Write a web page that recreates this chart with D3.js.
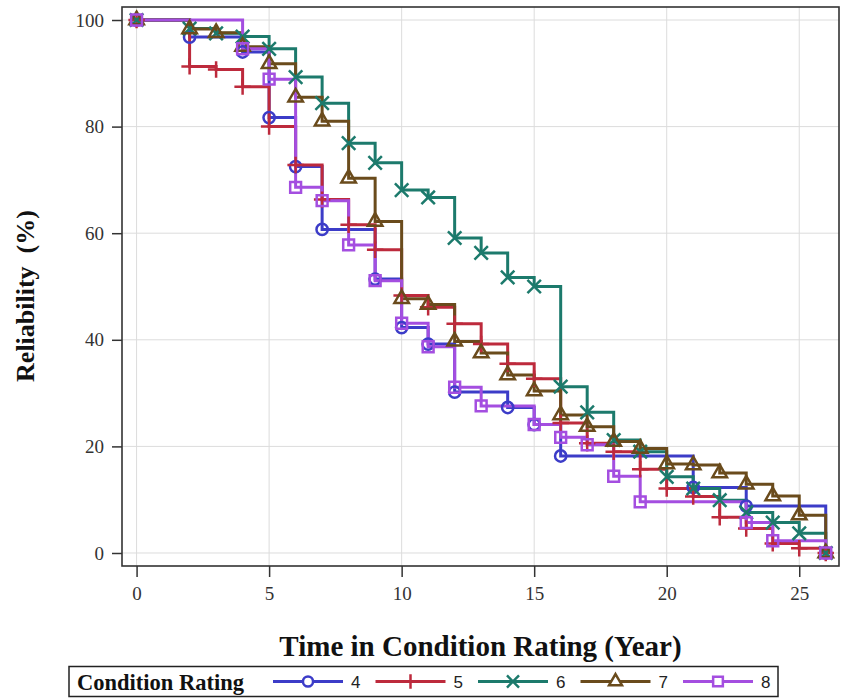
<!DOCTYPE html>
<html>
<head>
<meta charset="utf-8">
<script src="https://cdn.jsdelivr.net/npm/d3@7"></script>
<style>
  html, body { margin: 0; padding: 0; background: #fff; }
  svg { display: block; }
</style>
</head>
<body>
<svg id="chart" width="841" height="698"></svg>
<script>
// ---- data ----
const ratings = ["4", "5", "6", "7", "8"];

const years4 = [0, 2, 4, 5, 6, 7, 9, 10, 11, 12, 14, 15, 16, 21, 23, 26];
const rel4   = [100, 96.8, 94, 81.7, 72.5, 60.7, 51.4, 42.3, 39.2, 30.2, 27.3, 24.1, 18.2, 12.3, 8.8, 0];

const years5 = [0, 2, 3, 4, 5, 6, 7, 8, 9, 10, 11, 12, 13, 14, 15, 16, 17, 18, 19, 20, 21, 22, 23, 24, 25, 26];
const rel5   = [100, 91.3, 90.7, 87.5, 80, 72.8, 66.3, 61.6, 56.9, 48.3, 46.1, 43, 39.2, 35.5, 32.7, 24.4, 20.6, 19, 15.7, 12.1, 10.6, 6.7, 4.6, 1.8, 0.9, 0];

const years6 = [0, 2, 3, 4, 5, 6, 7, 8, 9, 10, 11, 12, 13, 14, 15, 16, 17, 18, 19, 20, 21, 22, 23, 24, 25, 26];
const rel6   = [100, 98.4, 97.5, 96.9, 94.6, 89.3, 84.4, 76.9, 73.2, 68.1, 66.7, 59.1, 56.3, 51.7, 50, 31.2, 26.4, 21.2, 19, 14.3, 12.1, 9.9, 7.6, 5.7, 3.7, 0];

const years7 = [0, 2, 3, 4, 5, 6, 7, 8, 9, 10, 11, 12, 13, 14, 15, 16, 17, 18, 19, 20, 21, 22, 23, 24, 25, 26];
const rel7   = [100, 98.3, 97.6, 95, 91.8, 85.5, 81, 70.3, 62.2, 47.7, 46.6, 39.7, 37.5, 33.4, 30.4, 25.9, 23.7, 20.9, 19.6, 16.7, 16.5, 15, 12.9, 10.7, 7.1, 0];

const years8 = [0, 4, 5, 6, 7, 8, 9, 10, 11, 12, 13, 15, 16, 17, 18, 19, 23, 24, 26];
const rel8   = [100, 94.6, 88.9, 68.6, 66.1, 57.8, 51.1, 43.1, 38.7, 31.1, 27.6, 24.1, 21.7, 20.3, 14.4, 9.6, 5.7, 2.3, 0];

const xTicks = [0, 5, 10, 15, 20, 25];
const yTicks = [0, 20, 40, 60, 80, 100];

const xTitle = "Time in Condition Rating (Year)";
const yTitle = "Reliability\u00a0\u00a0(%)";
const legendTitle = "Condition Rating";

// ---- styles ----
const colors  = ["#3c3cc8", "#bd2a3c", "#1c7a6c", "#6a4b1c", "#a44ee0"];
const symbols = [d3.symbolCircle, d3.symbolPlus, d3.symbolX, d3.symbolTriangle2, d3.symbolSquare2];
const symSizes = [100, 90, 120, 150, 150];
const serif = "Liberation Serif, Times New Roman, serif";

const series = ratings.map((r, i) => {
  const ys = [years4, years5, years6, years7, years8][i];
  const vs = [rel4, rel5, rel6, rel7, rel8][i];
  return { name: r, color: colors[i], symbol: symbols[i], size: symSizes[i],
           pts: ys.map((t, j) => ({ t, v: vs[j] })) };
});

// ---- layout ----
const L = 122, R = 839, T = 7, B = 566;
const svg = d3.select("#chart");

const x = d3.scaleLinear().domain([-0.55, 26.5]).range([L, R]);
const y = d3.scaleLinear().domain([-2.44, 102.44]).range([B, T]);

// gridlines
svg.append("g").selectAll("line").data(xTicks).join("line")
  .attr("x1", d => x(d)).attr("x2", d => x(d)).attr("y1", T).attr("y2", B)
  .attr("stroke", "#dcdcdc").attr("stroke-width", 1);
svg.append("g").selectAll("line").data(yTicks).join("line")
  .attr("y1", d => y(d)).attr("y2", d => y(d)).attr("x1", L).attr("x2", R)
  .attr("stroke", "#dcdcdc").attr("stroke-width", 1);

// axes
const xAxis = svg.append("g").attr("transform", `translate(0,${B})`)
  .call(d3.axisBottom(x).tickValues(xTicks).tickSize(11).tickPadding(10).tickSizeOuter(0));
const yAxis = svg.append("g").attr("transform", `translate(${L},0)`)
  .call(d3.axisLeft(y).tickValues(yTicks).tickSize(10).tickPadding(8).tickSizeOuter(0));
[xAxis, yAxis].forEach(g => {
  g.select(".domain").remove();
  g.selectAll(".tick line").attr("stroke", "#333").attr("stroke-width", 1.5);
  g.selectAll(".tick text").attr("font-family", serif)
    .attr("font-size", 19).attr("fill", "#333");
});

// frame
svg.append("rect").attr("x", L).attr("y", T).attr("width", R - L).attr("height", B - T)
  .attr("fill", "none").attr("stroke", "#333").attr("stroke-width", 1.6);

// lines
const line = d3.line().x(d => x(d.t)).y(d => y(d.v)).curve(d3.curveStepAfter);
const plot = svg.append("g");
series.forEach(s => {
  plot.append("path").datum(s.pts).attr("d", line)
    .attr("fill", "none").attr("stroke", s.color).attr("stroke-width", 3)
    .attr("stroke-linejoin", "miter");
});
series.forEach(s => {
  plot.append("g").selectAll("path").data(s.pts).join("path")
    .attr("transform", d => `translate(${x(d.t)},${y(d.v)})`)
    .attr("d", d3.symbol().type(s.symbol).size(s.size))
    .attr("fill", "none").attr("stroke", s.color).attr("stroke-width", 2.5);
});

// titles
svg.append("text").attr("x", (L + R) / 2).attr("y", 656).attr("text-anchor", "middle")
  .attr("font-family", serif).attr("font-weight", "bold")
  .attr("font-size", 29).attr("fill", "#111").text(xTitle);
svg.append("text").attr("transform", `translate(34,${296}) rotate(-90)`).attr("text-anchor", "middle")
  .attr("font-family", serif).attr("font-weight", "bold")
  .attr("font-size", 26).attr("fill", "#111").text(yTitle);

// legend
const lg = svg.append("g");
lg.append("rect").attr("x", 69).attr("y", 666.5).attr("width", 709).attr("height", 30)
  .attr("fill", "#fff").attr("stroke", "#222").attr("stroke-width", 1.5);
lg.append("text").attr("x", 77).attr("y", 689.5).attr("font-family", serif)
  .attr("font-weight", "bold").attr("font-size", 22.5).attr("fill", "#111").text(legendTitle);
const ly = 681.5;
series.forEach((s, i) => {
  const x0 = 273 + i * 102.5;
  const g = lg.append("g");
  g.append("line").attr("x1", x0).attr("x2", x0 + 70).attr("y1", ly).attr("y2", ly)
    .attr("stroke", s.color).attr("stroke-width", 3);
  g.append("path").attr("transform", `translate(${x0 + 35},${ly})`)
    .attr("d", d3.symbol().type(s.symbol).size(s.size * 0.8))
    .attr("fill", "#fff").attr("stroke", s.color).attr("stroke-width", 2.5);
  g.append("text").attr("x", x0 + 78).attr("y", ly + 6).attr("font-family", "Liberation Sans, Arial, sans-serif")
    .attr("font-size", 17).attr("fill", "#222").text(s.name);
});
</script>
</body>
</html>
